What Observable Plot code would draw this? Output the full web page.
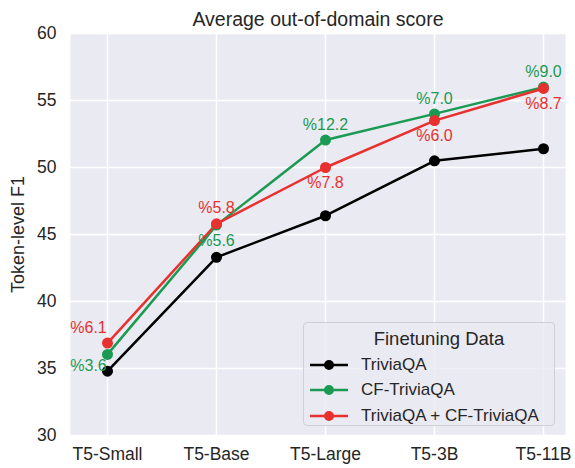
<!DOCTYPE html>
<html>
<head>
<meta charset="utf-8">
<script src="https://cdn.jsdelivr.net/npm/d3@7"></script>
<script src="https://cdn.jsdelivr.net/npm/@observablehq/plot@0.6"></script>
<style>
  body { margin: 0; background: #fff; font-family: "Liberation Sans", Arial, sans-serif; }
  #wrap { position: relative; width: 575px; height: 468px; }
  #legend { position: absolute; left: 303px; top: 322px; width: 252px; height: 104px;
    background: rgba(234,234,242,0.8); border: 1px solid #cfcfd4; border-radius: 4px; box-sizing: border-box; color: #262626; }
  #legend .t { text-align: center; font-size: 18.5px; margin-top: 3px; height: 26px; line-height: 26px; padding-left: 20px; }
  #legend .row { display: flex; align-items: center; height: 25.5px; font-size: 17px; }
  #legend svg { margin-left: 6px; margin-right: 13px; }
</style>
</head>
<body>
<div id="wrap"><div id="chart"></div><div id="legend"></div></div>
<script>
const models = ["T5-Small", "T5-Base", "T5-Large", "T5-3B", "T5-11B"];
const seriesNames = ["TriviaQA", "CF-TriviaQA", "TriviaQA + CF-TriviaQA"];
const seriesColors = ["#000000", "#1a9a52", "#e8312f"];
const triviaQA = [34.8, 43.3, 46.4, 50.5, 51.4];
const cfTriviaQA = [36.05, 45.7, 52.05, 54.0, 56.0];
const combined = [36.9, 45.8, 50.0, 53.5, 55.9];
const cfGain = [3.6, 5.6, 12.2, 7.0, 9.0];
const combinedGain = [6.1, 5.8, 7.8, 6.0, 8.7];
const yTicks = [30, 35, 40, 45, 50, 55, 60];

const seriesValues = [triviaQA, cfTriviaQA, combined];
const data = [];
seriesValues.forEach((vals, s) => vals.forEach((v, i) => data.push({model: models[i], idx: i, series: seriesNames[s], value: v})));

const ann = [];
cfGain.forEach((g, i) => ann.push({model: models[i], idx: i, series: seriesNames[1], value: cfTriviaQA[i], label: "%" + g.toFixed(1)}));
combinedGain.forEach((g, i) => ann.push({model: models[i], idx: i, series: seriesNames[2], value: combined[i], label: "%" + g.toFixed(1)}));

const font = "Liberation Sans, Arial, sans-serif";
const txt = "#262626";
const annText = (filter, dx, dy) => Plot.text(ann.filter(filter), {
  x: "model", y: "value", text: "label", fill: "series", dx, dy, fontSize: 16, fontFamily: font
});

const plot = Plot.plot({
  width: 575, height: 468,
  marginLeft: 70, marginRight: 10, marginTop: 33, marginBottom: 33,
  style: {fontFamily: font, fontSize: "17.5px", color: txt, background: "white"},
  x: {type: "point", domain: models, range: [107, 543], padding: 0, tickSize: 0, tickPadding: 12, label: null},
  y: {domain: [30, 60], ticks: yTicks, tickSize: 0, tickPadding: 14, label: null},
  color: {domain: seriesNames, range: seriesColors},
  marks: [
    Plot.frame({fill: "#eaeaf2", stroke: null}),
    Plot.ruleY(yTicks, {stroke: "white", strokeWidth: 1.5}),
    Plot.ruleX(models, {stroke: "white", strokeWidth: 1.5}),
    Plot.line(data, {x: "model", y: "value", z: "series", stroke: "series", strokeWidth: 2.5}),
    Plot.dot(data, {x: "model", y: "value", fill: "series", r: 5.5}),
    annText(d => d.series === seriesNames[1] && d.idx === 0, -19, 11),
    annText(d => d.series === seriesNames[1] && d.idx === 1, 0, 16),
    annText(d => d.series === seriesNames[1] && d.idx >= 2, 0, -15),
    annText(d => d.series === seriesNames[2] && d.idx === 0, -19, -15),
    annText(d => d.series === seriesNames[2] && d.idx === 1, 0, -16),
    annText(d => d.series === seriesNames[2] && d.idx >= 2, 0, 15),
    Plot.text(["Average out-of-domain score"], {frameAnchor: "top", dy: -21, fontSize: 19.5, fill: txt, fontFamily: font}),
    Plot.text(["Token-level F1"], {frameAnchor: "left", textAnchor: "middle", dx: -52, rotate: -90, fontSize: 18, fill: txt, fontFamily: font})
  ]
});
document.getElementById("chart").appendChild(plot);

const legend = d3.select("#legend");
legend.append("div").attr("class", "t").text("Finetuning Data");
seriesNames.forEach((name, s) => {
  const row = legend.append("div").attr("class", "row");
  const svg = row.append("svg").attr("width", 38).attr("height", 12);
  svg.append("line").attr("x1", 0).attr("x2", 38).attr("y1", 6).attr("y2", 6).attr("stroke", seriesColors[s]).attr("stroke-width", 2.5);
  svg.append("circle").attr("cx", 19).attr("cy", 6).attr("r", 5).attr("fill", seriesColors[s]);
  row.append("span").text(name);
});
</script>
</body>
</html>
